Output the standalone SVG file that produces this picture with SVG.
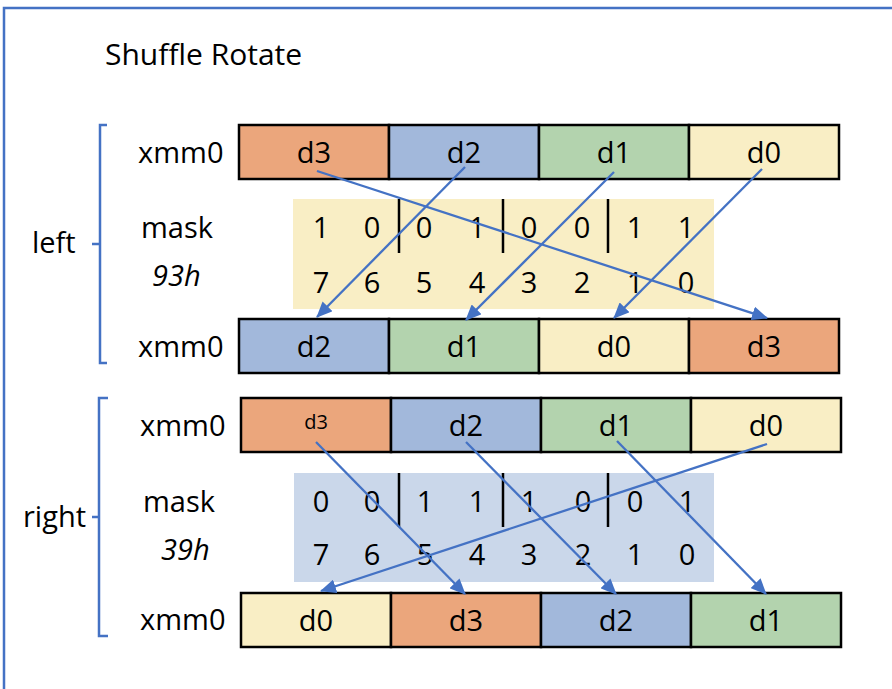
<svg xmlns="http://www.w3.org/2000/svg" width="892" height="689" viewBox="0 0 892 689">
<style>
text{font-family:"Open Sans","Liberation Sans",sans-serif;fill:#000;font-size:29px}
.c{text-anchor:middle}
.i{font-style:italic}
.reg rect{stroke:#000;stroke-width:2.5}
.or{fill:#EBA67C}.bl{fill:#A2B8DB}.gr{fill:#B3D3AE}.ye{fill:#F9EEC5}
.div{stroke:#000;stroke-width:2.5}
.br{fill:none;stroke:#4472C4;stroke-width:2.5}
.ar{stroke:#4472C4;stroke-width:2.3;fill:none;marker-end:url(#ah)}
</style>
<defs>
<marker id="ah" markerUnits="userSpaceOnUse" markerWidth="16" markerHeight="14" refX="15" refY="7" orient="auto">
<path d="M0,0 L16,7 L0,14 Z" fill="#4472C4"/>
</marker>
</defs>
<rect width="892" height="689" fill="#fff"/>
<path d="M4,689 V8 H892" fill="none" stroke="#4472C4" stroke-width="2.5"/>
<text x="105" y="65" style="font-size:30px">Shuffle Rotate</text>

<g id="left-brace">
<path class="br" d="M107,125 H100 V363 H107 M100,244 H92"/>
<text x="32" y="253">left</text>
</g>
<g id="right-brace">
<path class="br" d="M108,398 H99 V636 H108 M99,517 H92"/>
<text x="23" y="527">right</text>
</g>

<g id="left-labels">
<text x="138" y="163">xmm0</text>
<text x="141" y="238">mask</text>
<text x="152" y="286" class="i">93h</text>
<text x="138" y="357">xmm0</text>
</g>
<g id="right-labels">
<text x="140" y="436">xmm0</text>
<text x="143" y="512">mask</text>
<text x="161" y="560" class="i">39h</text>
<text x="140" y="630">xmm0</text>
</g>

<g id="left-src" class="reg">
<rect class="or" x="239" y="125" width="150" height="54"/>
<rect class="bl" x="389" y="125" width="150" height="54"/>
<rect class="gr" x="539" y="125" width="150" height="54"/>
<rect class="ye" x="689" y="125" width="150" height="54"/>
<text class="c" x="314" y="163">d3</text>
<text class="c" x="464" y="163">d2</text>
<text class="c" x="614" y="163">d1</text>
<text class="c" x="764" y="163">d0</text>
</g>

<g id="left-mask">
<rect x="293" y="199" width="421" height="110" fill="#F9EEC5"/>
<line class="div" x1="399" y1="199" x2="399" y2="253"/>
<line class="div" x1="503" y1="199" x2="503" y2="253"/>
<line class="div" x1="608" y1="199" x2="608" y2="253"/>
<g class="c">
<text x="321" y="238">1</text><text x="372" y="238">0</text><text x="424" y="238">0</text><text x="477" y="238">1</text>
<text x="529" y="238">0</text><text x="582" y="238">0</text><text x="635" y="238">1</text><text x="686" y="238">1</text>
<text x="321" y="293">7</text><text x="372" y="293">6</text><text x="424" y="293">5</text><text x="477" y="293">4</text>
<text x="529" y="293">3</text><text x="582" y="293">2</text><text x="635" y="293">1</text><text x="686" y="293">0</text>
</g>
</g>

<g id="left-dst" class="reg">
<rect class="bl" x="239" y="319" width="150" height="54"/>
<rect class="gr" x="389" y="319" width="150" height="54"/>
<rect class="ye" x="539" y="319" width="150" height="54"/>
<rect class="or" x="689" y="319" width="150" height="54"/>
<text class="c" x="314" y="357">d2</text>
<text class="c" x="464" y="357">d1</text>
<text class="c" x="614" y="357">d0</text>
<text class="c" x="764" y="357">d3</text>
</g>

<g id="right-src" class="reg">
<rect class="or" x="241" y="398" width="150" height="54"/>
<rect class="bl" x="391" y="398" width="150" height="54"/>
<rect class="gr" x="541" y="398" width="150" height="54"/>
<rect class="ye" x="691" y="398" width="150" height="54"/>
<text class="c" x="316" y="429" style="font-size:20px">d3</text>
<text class="c" x="466" y="436">d2</text>
<text class="c" x="616" y="436">d1</text>
<text class="c" x="766" y="436">d0</text>
</g>

<g id="right-mask">
<rect x="294" y="473" width="420" height="109" fill="#CAD7EA"/>
<line class="div" x1="399" y1="473" x2="399" y2="527"/>
<line class="div" x1="503" y1="473" x2="503" y2="527"/>
<line class="div" x1="608" y1="473" x2="608" y2="527"/>
<g class="c">
<text x="321" y="512">0</text><text x="372" y="512">0</text><text x="425" y="512">1</text><text x="477" y="512">1</text>
<text x="529" y="512">1</text><text x="583" y="512">0</text><text x="635" y="512">0</text><text x="687" y="512">1</text>
<text x="321" y="565">7</text><text x="372" y="565">6</text><text x="425" y="565">5</text><text x="477" y="565">4</text>
<text x="529" y="565">3</text><text x="583" y="565">2</text><text x="635" y="565">1</text><text x="687" y="565">0</text>
</g>
</g>

<g id="right-dst" class="reg">
<rect class="ye" x="241" y="593" width="150" height="54"/>
<rect class="or" x="391" y="593" width="150" height="54"/>
<rect class="bl" x="541" y="593" width="150" height="54"/>
<rect class="gr" x="691" y="593" width="150" height="54"/>
<text class="c" x="316" y="631">d0</text>
<text class="c" x="466" y="631">d3</text>
<text class="c" x="616" y="631">d2</text>
<text class="c" x="766" y="631">d1</text>
</g>

<g id="connectors">
<line class="ar" x1="317" y1="171" x2="767" y2="318"/>
<line class="ar" x1="465" y1="167" x2="317" y2="317"/>
<line class="ar" x1="614" y1="172" x2="466" y2="320"/>
<line class="ar" x1="762" y1="169" x2="614" y2="318"/>
<line class="ar" x1="316" y1="442" x2="465" y2="594"/>
<line class="ar" x1="466" y1="442" x2="616" y2="594"/>
<line class="ar" x1="617" y1="441" x2="766" y2="594"/>
<line class="ar" x1="767" y1="444" x2="321" y2="591"/>
</g>
</svg>
